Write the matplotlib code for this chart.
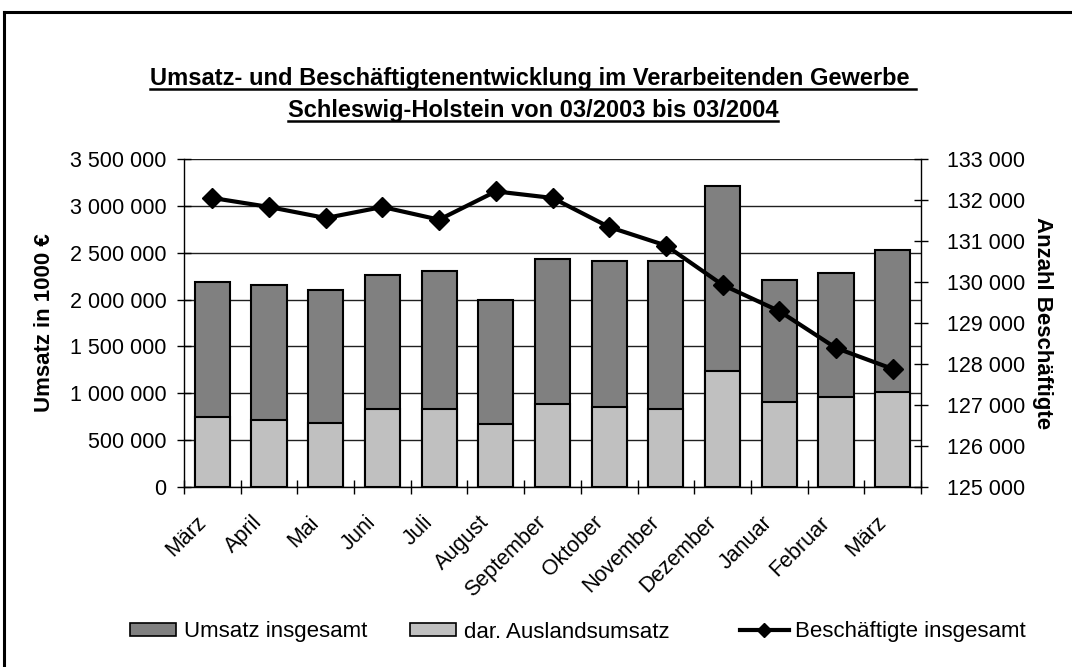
import matplotlib
matplotlib.use('Agg')
import matplotlib.pyplot as plt
from matplotlib.lines import Line2D
from matplotlib.patches import Patch
from matplotlib.transforms import ScaledTranslation
import numpy as np

months = ['März', 'April', 'Mai', 'Juni', 'Juli', 'August', 'September',
          'Oktober', 'November', 'Dezember', 'Januar', 'Februar', 'März']
umsatz = [2190000, 2157000, 2104000, 2267000, 2300000, 1994000, 2432000,
          2410000, 2410000, 3213000, 2210000, 2282000, 2524000]
ausland = [742000, 720000, 685000, 827000, 827000, 667000, 881000,
           849000, 827000, 1234000, 903000, 959000, 1009000]
beschaeftigte = [132050, 131830, 131560, 131830, 131520, 132210, 132050,
                 131340, 130890, 129930, 129290, 128390, 127880]
left_ticks = [0, 500000, 1000000, 1500000, 2000000, 2500000, 3000000, 3500000]
right_ticks = [125000, 126000, 127000, 128000, 129000, 130000, 131000, 132000, 133000]

title1 = 'Umsatz- und Beschäftigtenentwicklung im Verarbeitenden Gewerbe '
title2 = 'Schleswig-Holstein von 03/2003 bis 03/2004'

plt.rcParams['font.family'] = ['Liberation Sans', 'DejaVu Sans']

W, H = 1072, 667
fig = plt.figure(figsize=(W / 100, H / 100), dpi=100)
fig.patch.set_facecolor('white')

def fx(px):
    return px / W

def fy(py):
    return 1 - py / H

L, R, T, B = 184, 921, 159, 487
ax = fig.add_axes([fx(L), fy(B), (R - L) / W, (B - T) / H])
x = np.arange(len(months))
ax.bar(x, umsatz, width=0.62, color='#808080', edgecolor='black', linewidth=1.5, zorder=3)
ax.bar(x, ausland, width=0.62, color='#C0C0C0', edgecolor='black', linewidth=1.5, zorder=4)
ax.set_xlim(-0.5, len(months) - 0.5)
ax.set_ylim(left_ticks[0], left_ticks[-1])
ax.set_yticks(left_ticks)
ax.set_yticklabels([f'{v:,}'.replace(',', ' ') for v in left_ticks])
ax.yaxis.grid(True, color='#202020', linewidth=1)
ax.set_axisbelow(True)
for s in ['top', 'right']:
    ax.spines[s].set_visible(False)
for s in ['left', 'bottom']:
    ax.spines[s].set_linewidth(1)
    ax.spines[s].set_color('black')

ax.tick_params(axis='y', direction='inout', length=9.4, width=1, labelsize=15.5, pad=8)
ax.set_xticks(x)
ax.set_xticklabels(months, rotation=45, ha='right', va='top', rotation_mode='anchor')
ax.tick_params(axis='x', which='major', length=0, labelsize=15.5, pad=10)
ax.set_xticks(np.arange(-0.5, len(months)), minor=True)
ax.tick_params(axis='x', which='minor', direction='inout', length=9.4, width=1)
shift = ScaledTranslation(-0.17, -0.11, fig.dpi_scale_trans)
for lbl in ax.get_xticklabels():
    lbl.set_transform(lbl.get_transform() + shift)

ax2 = ax.twinx()
ax2.plot(x, beschaeftigte, color='black', linewidth=3, marker='D', markersize=10, zorder=5)
ax2.set_ylim(right_ticks[0], right_ticks[-1])
ax2.set_yticks(right_ticks)
ax2.set_yticklabels([f'{v:,}'.replace(',', ' ') for v in right_ticks])
ax2.tick_params(axis='y', direction='inout', length=9.4, width=1, labelsize=15.5, pad=14)
for s in ['top', 'left', 'bottom']:
    ax2.spines[s].set_visible(False)
ax2.spines['right'].set_linewidth(1)
ax2.spines['right'].set_color('black')

fig.text(fx(45), fy(323), 'Umsatz in 1000 €', rotation=90, ha='center', va='center',
         fontsize=16, fontweight='bold')
fig.text(fx(1043), fy(323), 'Anzahl Beschäftigte', rotation=270, ha='center', va='center',
         fontsize=16, fontweight='bold')

t1 = fig.text(fx(533), fy(85), title1, ha='center', va='baseline', fontsize=17, fontweight='bold')
t2 = fig.text(fx(533), fy(117), title2, ha='center', va='baseline', fontsize=17, fontweight='bold')

# legends
common = dict(frameon=False, fontsize=16, borderpad=0, borderaxespad=0, handleheight=0.55)
ly = fy(632)
fig.legend(handles=[Patch(facecolor='#808080', edgecolor='black', linewidth=1.2)],
           labels=['Umsatz insgesamt'], loc='center left', bbox_to_anchor=(fx(130), ly),
           handlelength=2.07, handletextpad=0.36, **common)
fig.legend(handles=[Patch(facecolor='#C0C0C0', edgecolor='black', linewidth=1.2)],
           labels=['dar. Auslandsumsatz'], loc='center left', bbox_to_anchor=(fx(410), ly),
           handlelength=2.07, handletextpad=0.36, **common)
fig.legend(handles=[Line2D([], [], color='black', linewidth=3, marker='D', markersize=7)],
           labels=['Beschäftigte insgesamt'], loc='center left', bbox_to_anchor=(fx(740), ly),
           handlelength=2.2, handletextpad=0.27, numpoints=1, **common)

# outer frame
fig.add_artist(Line2D([fx(4), fx(4)], [fy(12), fy(H + 5)], color='black', linewidth=2.2))
fig.add_artist(Line2D([fx(4), fx(W + 5)], [fy(12), fy(12)], color='black', linewidth=2.2))

# underline titles
fig.canvas.draw()
r = fig.canvas.get_renderer()
for t, base in [(t1, 85), (t2, 117)]:
    bb = t.get_window_extent(r)
    fig.add_artist(Line2D([bb.x0 / W, bb.x1 / W], [fy(base + 4), fy(base + 4)],
                          color='black', linewidth=1.8))

fig.savefig('out.png', dpi=100)
